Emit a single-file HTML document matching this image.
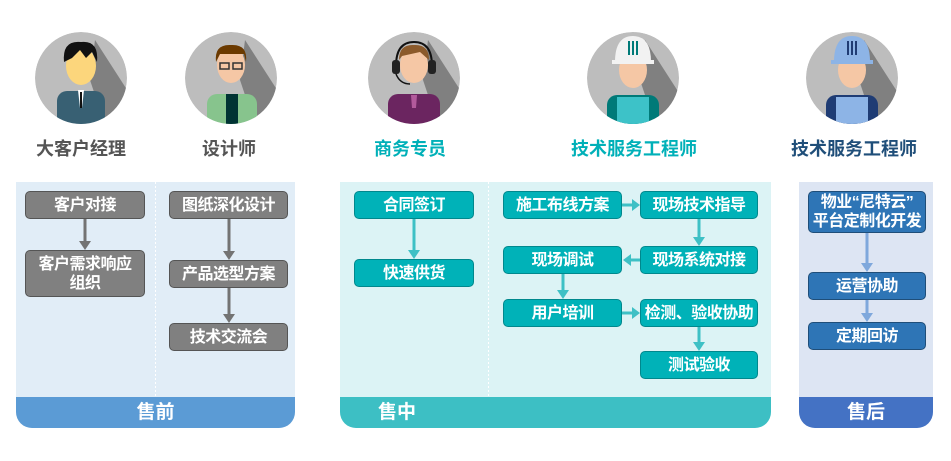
<!DOCTYPE html>
<html><head><meta charset="utf-8"><style>
body{margin:0;width:951px;height:461px;background:#fff;font-family:"Liberation Sans","Noto Sans CJK SC",sans-serif;position:relative;overflow:hidden}
.a{position:absolute}
.p{position:absolute;border-radius:0 0 16px 16px;overflow:hidden}
.band{position:absolute;left:0;right:0;bottom:0;height:31px;color:#fff;font-weight:bold;font-size:19px;text-align:center;line-height:31px}
.b{position:absolute;box-sizing:border-box;border-radius:5px;color:#fff;font-weight:bold;font-size:16px;text-align:center;display:flex;align-items:center;justify-content:center;line-height:19px;letter-spacing:-0.5px}
.g{background:#808080;border:1.5px solid #555}
.t{background:#00b2b8;border:1.5px solid #00888d}
.u{background:#2e75b6;border:1.5px solid #1f4e79}
.lbl{position:absolute;top:135px;font-size:18px;font-weight:bold;text-align:center;width:200px}
</style></head><body>

<svg class="a" style="left:0;top:0" width="951" height="180">
<defs><clipPath id="c1"><circle cx="81" cy="78" r="46"/></clipPath><clipPath id="c2"><circle cx="231" cy="78" r="46"/></clipPath><clipPath id="c3"><circle cx="414" cy="78" r="46"/></clipPath><clipPath id="c4"><circle cx="633" cy="78" r="46"/></clipPath><clipPath id="c5"><circle cx="852" cy="78" r="46"/></clipPath></defs>
<g clip-path="url(#c1)"><circle cx="81" cy="78" r="46" fill="#bdbdbd"/><polygon points="95,40 140,110 110,140 90,80" fill="#808080"/><rect x="57" y="91" width="48" height="40" rx="10" fill="#386073"/><polygon points="78,90 84,90 82,108 80,108" fill="#fff"/><rect x="80" y="92" width="2" height="16" fill="#111"/><ellipse cx="81" cy="66" rx="15" ry="19" fill="#fcd67c"/><path d="M64,62 Q62,40 81,42 Q99,40 97,62 L92,52 L86,58 L80,50 L72,58 Z" fill="#111"/></g>
<g clip-path="url(#c2)"><circle cx="231" cy="78" r="46" fill="#bdbdbd"/><polygon points="245,40 290,110 260,140 240,80" fill="#808080"/><rect x="207" y="94" width="50" height="40" rx="10" fill="#87c48d"/><rect x="226" y="94" width="12" height="40" fill="#003333"/><ellipse cx="231" cy="65" rx="14" ry="18" fill="#f5c7a5"/><path d="M216,62 Q214,44 231,45 Q248,44 246,62 L244,54 L220,54 Z" fill="#6b3a00"/><rect x="220" y="63" width="9" height="6" fill="none" stroke="#333" stroke-width="1.5"/><rect x="233" y="63" width="9" height="6" fill="none" stroke="#333" stroke-width="1.5"/></g>
<g clip-path="url(#c3)"><circle cx="414" cy="78" r="46" fill="#bdbdbd"/><polygon points="428,40 473,110 443,140 423,80" fill="#808080"/><rect x="388" y="94" width="52" height="40" rx="10" fill="#6b2560"/><polygon points="411,95 417,95 416,108 412,108" fill="#b35a9c"/><ellipse cx="414" cy="65" rx="14" ry="18" fill="#f5c7a5"/><path d="M399,60 Q399,44 414,45 Q429,44 429,60 L420,52 L402,56 Z" fill="#8b5a2b"/><path d="M396,66 Q396,42 414,42 Q432,42 432,66" fill="none" stroke="#111" stroke-width="2"/><rect x="392" y="60" width="8" height="14" rx="3" fill="#222"/><rect x="428" y="60" width="8" height="14" rx="3" fill="#222"/><path d="M396,74 Q400,84 410,84" stroke="#111" stroke-width="1.5" fill="none"/></g>
<g clip-path="url(#c4)"><circle cx="633" cy="78" r="46" fill="#bdbdbd"/><polygon points="645,40 690,110 660,140 640,80" fill="#808080"/><rect x="607" y="95" width="52" height="40" rx="10" fill="#007a78"/><rect x="617" y="97" width="32" height="40" fill="#3dc2c8"/><ellipse cx="633" cy="70" rx="14" ry="18" fill="#f5c7a5"/><path d="M615,62 Q615,36 633,36 Q651,36 651,62 Z" fill="#f2f2f2"/><rect x="612" y="60" width="42" height="4" fill="#f2f2f2"/><rect x="628" y="41" width="2" height="14" fill="#007a78"/><rect x="632" y="41" width="2" height="14" fill="#007a78"/><rect x="636" y="41" width="2" height="14" fill="#007a78"/></g>
<g clip-path="url(#c5)"><circle cx="852" cy="78" r="46" fill="#bdbdbd"/><polygon points="864,40 909,110 879,140 859,80" fill="#808080"/><rect x="826" y="95" width="52" height="40" rx="10" fill="#1f3c74"/><rect x="836" y="97" width="32" height="40" fill="#8db4e6"/><ellipse cx="852" cy="70" rx="14" ry="18" fill="#f5c7a5"/><path d="M834,62 Q834,36 852,36 Q870,36 870,62 Z" fill="#8db4e6"/><rect x="831" y="60" width="42" height="4" fill="#8db4e6"/><rect x="847" y="41" width="2" height="14" fill="#1f3c74"/><rect x="851" y="41" width="2" height="14" fill="#1f3c74"/><rect x="855" y="41" width="2" height="14" fill="#1f3c74"/></g>
</svg>
<div class="lbl" style="left:-19px;color:#555">大客户经理</div>
<div class="lbl" style="left:129px;color:#555">设计师</div>
<div class="lbl" style="left:310px;color:#00b0b8">商务专员</div>
<div class="lbl" style="left:534px;color:#00b0b8">技术服务工程师</div>
<div class="lbl" style="left:754px;color:#1f4e79">技术服务工程师</div>

<div class="p" style="left:16px;top:182px;width:279px;height:246px;background:#e1edf7"><div class="band" style="background:#5b9bd5">售前</div></div>
<div class="p" style="left:340px;top:182px;width:431px;height:246px;background:#dcf3f5"><div class="band" style="background:#3dbfc4;text-align:left;padding-left:38px">售中</div></div>
<div class="p" style="left:799px;top:182px;width:134px;height:246px;background:#dde5f3"><div class="band" style="background:#4472c4">售后</div></div>

<svg class="a" style="left:0;top:0" width="951" height="461">
<line x1="155.5" y1="182" x2="155.5" y2="397" stroke="#fff" stroke-dasharray="2,2"/>
<line x1="488.5" y1="182" x2="488.5" y2="396" stroke="#fff" stroke-dasharray="2,2"/>
<g stroke="#737373" stroke-width="3" fill="#737373">
<line x1="85" y1="219" x2="85" y2="242"/><polygon points="79,241 91,241 85,250" stroke="none"/>
<line x1="229" y1="219" x2="229" y2="252"/><polygon points="223,251 235,251 229,260" stroke="none"/>
<line x1="229" y1="288" x2="229" y2="315"/><polygon points="223,314 235,314 229,323" stroke="none"/>
</g>
<g stroke="#3ec0c5" stroke-width="3" fill="#3ec0c5">
<line x1="414" y1="219" x2="414" y2="251"/><polygon points="408,250 420,250 414,259" stroke="none"/>
<line x1="622" y1="205" x2="633" y2="205"/><polygon points="632,199 632,211 640,205" stroke="none"/>
<line x1="699" y1="219" x2="699" y2="238"/><polygon points="693,237 705,237 699,246" stroke="none"/>
<line x1="640" y1="260" x2="630" y2="260"/><polygon points="631,254 631,266 623,260" stroke="none"/>
<line x1="563" y1="274" x2="563" y2="291"/><polygon points="557,290 569,290 563,299" stroke="none"/>
<line x1="622" y1="313" x2="633" y2="313"/><polygon points="632,307 632,319 640,313" stroke="none"/>
<line x1="699" y1="327" x2="699" y2="343"/><polygon points="693,342 705,342 699,351" stroke="none"/>
</g>
<g stroke="#7fa8dc" stroke-width="3" fill="#7fa8dc">
<line x1="867" y1="233" x2="867" y2="264"/><polygon points="861,263 873,263 867,272" stroke="none"/>
<line x1="867" y1="300" x2="867" y2="314"/><polygon points="861,313 873,313 867,322" stroke="none"/>
</g>
</svg>

<div class="b g" style="left:25px;top:191px;width:120px;height:28px">客户对接</div>
<div class="b g" style="left:25px;top:250px;width:120px;height:47px">客户需求响应<br>组织</div>
<div class="b g" style="left:169px;top:191px;width:119px;height:28px">图纸深化设计</div>
<div class="b g" style="left:169px;top:260px;width:119px;height:28px">产品选型方案</div>
<div class="b g" style="left:169px;top:323px;width:119px;height:28px">技术交流会</div>

<div class="b t" style="left:354px;top:191px;width:120px;height:28px">合同签订</div>
<div class="b t" style="left:354px;top:259px;width:120px;height:28px">快速供货</div>
<div class="b t" style="left:503px;top:191px;width:119px;height:28px">施工布线方案</div>
<div class="b t" style="left:640px;top:191px;width:118px;height:28px">现场技术指导</div>
<div class="b t" style="left:503px;top:246px;width:119px;height:28px">现场调试</div>
<div class="b t" style="left:640px;top:246px;width:118px;height:28px">现场系统对接</div>
<div class="b t" style="left:503px;top:299px;width:119px;height:28px">用户培训</div>
<div class="b t" style="left:640px;top:299px;width:118px;height:28px">检测、验收协助</div>
<div class="b t" style="left:640px;top:351px;width:118px;height:28px">测试验收</div>

<div class="b u" style="left:808px;top:191px;width:118px;height:42px">物业“尼特云”<br>平台定制化开发</div>
<div class="b u" style="left:808px;top:272px;width:118px;height:28px">运营协助</div>
<div class="b u" style="left:808px;top:322px;width:118px;height:28px">定期回访</div>
</body></html>
